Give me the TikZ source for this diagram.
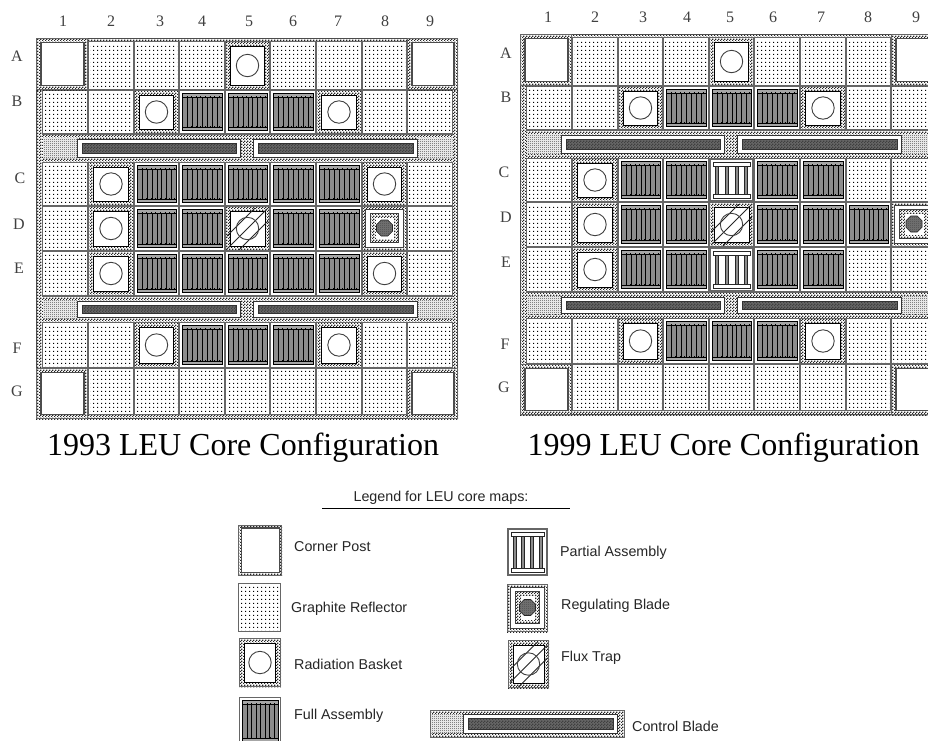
\documentclass[tikz,border=0pt]{standalone}
\usepackage{fontspec}
\setmainfont{Liberation Serif}
\newfontfamily\lab{Liberation Sans}
\usetikzlibrary{patterns}
\pgfdeclarepatternformonly{stip}{\pgfpointorigin}{\pgfpoint{3pt}{3pt}}{\pgfpoint{3pt}{3pt}}{%
  \pgfpathrectangle{\pgfpointorigin}{\pgfpoint{1.5pt}{1.5pt}}%
  \pgfpathrectangle{\pgfpoint{1.5pt}{1.5pt}}{\pgfpoint{1.5pt}{1.5pt}}\pgfusepath{fill}}
\pgfdeclarepatternformonly{fine}{\pgfpointorigin}{\pgfpoint{2pt}{2pt}}{\pgfpoint{2pt}{2pt}}{%
  \pgfpathrectangle{\pgfpointorigin}{\pgfpoint{1pt}{1pt}}%
  \pgfpathrectangle{\pgfpoint{1pt}{1pt}}{\pgfpoint{1pt}{1pt}}\pgfusepath{fill}}
\pgfdeclarepatternformonly{gdots}{\pgfpointorigin}{\pgfpoint{4pt}{4pt}}{\pgfpoint{4pt}{4pt}}{%
  \pgfpathrectangle{\pgfpoint{1.5pt}{1.5pt}}{\pgfpoint{1.2pt}{1.2pt}}\pgfusepath{fill}}
\tikzset{
  stipple/.style={preaction={fill=white},pattern=stip,pattern color=black!85},
  finegray/.style={preaction={fill=white},pattern=fine,pattern color=black!75},
  edge line/.style={draw=black!60,line width=1.6pt},
  black line/.style={draw=black,line width=1pt},
  title text/.style={font=\fontsize{32}{32}\selectfont,inner sep=0pt},
  axis text/.style={font=\fontsize{16}{16}\selectfont,inner sep=0pt,text=black!75},
  legend text/.style={font=\lab\fontsize{14.3}{14.3}\selectfont,inner sep=0pt,anchor=west,text=black!85},
}
\def\kin{5}
% every cell is drawn in a scope whose origin is its top left corner; \W and \H are its size
\newcommand{\cellG}{%
  \fill[white] (0,0) rectangle (\W,\H);
  \fill[pattern=gdots,pattern color=black] (2,2) rectangle (\W-2,\H-2);
  \draw[edge line] (0.5,0.5) rectangle (\W-0.5,\H-0.5);}
\newcommand{\stipbase}{%
  \fill[stipple] (0,0) rectangle (\W,\H);
  \draw[draw=black!60,line width=.8pt] (0.2,0.2) rectangle (\W-0.2,\H-0.2);}
\newcommand{\cellR}{%
  \stipbase
  \draw[fill=white,black line] (5.5,5) rectangle (\W-5.5,\H-5);
  \draw[draw=black!75,line width=.9pt] (\W/2,\H/2) circle (11.2);}
\newcommand{\cellF}{%
  \fill[white] (0,0) rectangle (\W,\H);
  \draw[edge line] (0.5,0.5) rectangle (\W-0.5,\H-0.5);
  \fill[black!45] (3,4) rectangle (\W-3,\H-4);
  \foreach \i in {0,...,8}{
    \pgfmathsetmacro\xs{round(3+(\W-6)*\i/8)}
    \draw[black,line width=1pt] (\xs,4) -- (\xs,\H-4);
  }
  \draw[fill=black!35,draw=black,line width=.9pt] (3,3.5) rectangle (\W-3,7);
  \draw[fill=black!35,draw=black,line width=.9pt] (3,\H-7) rectangle (\W-3,\H-3.5);
  \draw[black,line width=1.4pt,dash pattern=on 1pt off 3.6pt] (3,7) -- (\W-3,7);
  \draw[black,line width=1.4pt,dash pattern=on 1pt off 3.6pt] (3,\H-7) -- (\W-3,\H-7);}
\newcommand{\cellP}{%
  \fill[white] (0,0) rectangle (\W,\H);
  \draw[draw=black!60,line width=1.8pt] (0.8,0.8) rectangle (\W-0.8,\H-0.8);
  \foreach \fr in {.18,.39,.61,.82}{
    \pgfmathsetmacro\xs{\W*\fr}
    \draw[fill=black!45,draw=black!85,line width=.6pt] (\xs-1.5,5) rectangle (\xs+1.5,\H-5);
  }
  \draw[fill=white,draw=black!85,line width=.8pt] (4,4) rectangle (\W-4,8);
  \draw[fill=white,draw=black!85,line width=.8pt] (4,\H-8) rectangle (\W-4,\H-4);}
\newcommand{\cellT}{%
  \stipbase
  \draw[fill=white,black line] (5,5) rectangle (\W-5,\H-5);
  \begin{scope}
    \clip (2,2) rectangle (\W-2,\H-2);
    \draw[black!85,line width=.8pt] (\W/2-24,\H/2+24) -- (\W/2+24,\H/2-24);
    \draw[black!85,line width=.8pt] (\W/2-24,\H/2+11) -- (\W/2+11,\H/2-24);
    \draw[black!85,line width=.8pt] (\W/2-11,\H/2+24) -- (\W/2+24,\H/2-11);
  \end{scope}
  \draw[draw=black!75,line width=.9pt] (\W/2,\H/2) circle (11.2);}
\newcommand{\cellD}{%
  \stipbase
  \draw[fill=white,draw=black!75,line width=.9pt] (3.5,3.5) rectangle (\W-3.5,\H-3.5);
  \fill[black!75] (8,7) rectangle (\W-8,\H-8);
  \fill[stipple] (9,8) rectangle (\W-9,\H-9);
  \fill[white] (14,12) rectangle (\W-13,\H-12.5);
  \begin{scope}[shift={(\W/2,\H/2-.5)}]
  \draw[preaction={fill=black!55},pattern=fine,pattern color=black!70,draw=black!85,line width=.6pt]
    (-3.3,-8) -- (3.3,-8) -- (8,-3.3) -- (8,3.3) -- (3.3,8)
    -- (-3.3,8) -- (-8,3.3) -- (-8,-3.3) -- cycle;
  \end{scope}}
\newcommand{\cellK}{%
  \stipbase
  \draw[fill=white,draw=black!70,line width=1.1pt] (\kin,\kin-.5) rectangle (\W-\kin+1,\H-\kin+.5);}
\newcommand{\drawcell}[5]{%
  \begin{scope}[shift={(#2,#3)}]
    \pgfmathsetmacro\W{#4-#2}\pgfmathsetmacro\H{#5-#3}
    \csname cell#1\endcsname
  \end{scope}}
% one control blade: box x0 y0 x1 y1 with its dark core inside
\newcommand{\bladepart}[4]{%
  \draw[fill=white,draw=black!80,line width=.8pt] (#1,#2) rectangle (#3,#4);
  \fill[preaction={fill=black!60},pattern=stip,pattern color=black!75] (#1+5,#2+4) rectangle (#3-4,#4-4);
  \draw[draw=black!80,line width=.6pt] (#1+5,#2+4) rectangle (#3-4,#4-4);}
\newcommand{\bladeband}[2]{%
  \fill[stipple] (42,#1) rectangle (453,#2);
  \fill[finegray] (43,#1+4) rectangle (77,#2-4);
  \fill[finegray] (417,#1+4) rectangle (452.5,#2-4);
  \draw[draw=black!60,line width=.9pt] (42,#1) -- (453,#1);
  \draw[draw=black!60,line width=.9pt] (42,#2) -- (453,#2);
  \bladepart{77}{#1+5}{240}{#2-5}
  \bladepart{253.5}{#1+5}{417}{#2-5}}
\newcommand{\core}[3]{%
  \begin{scope}[shift={(#1,#2)}]
    \fill[stipple] (36,38) rectangle (458,419);
    \draw[draw=black!70,line width=1pt] (36.4,38.4) rectangle (457.6,418.6);
    \foreach \ya/\yb/\lst in {#3}{
      \foreach \t [count=\c] in \lst {
        \pgfmathsetmacro\xa{round(42.4+45.6*(\c-1))}
        \pgfmathsetmacro\xb{round(42.4+45.6*\c)}
        \drawcell{\t}{\xa}{\ya}{\xb}{\yb}
      }
    }
    \bladeband{134}{162}
    \bladeband{296}{322}
    \drawcell{K}{36}{38}{88}{90}
    \drawcell{K}{407}{38}{458}{90}
    \drawcell{K}{36}{368}{88}{419}
    \drawcell{K}{407}{368}{458}{419}
  \end{scope}}
\begin{document}
\begin{tikzpicture}[x=1pt,y=-1pt]
\useasboundingbox (0,0) rectangle (928,740);
\fill[white] (0,0) rectangle (928,740);
\begin{scope}
\clip (0,0) rectangle (928,740);
\core{0}{0}{
  41/90/{G,G,G,G,R,G,G,G,G},
  90/134/{G,G,R,F,F,F,R,G,G},
  162/206/{G,R,F,F,F,F,F,R,G},
  206/251/{G,R,F,F,T,F,F,D,G},
  251/296/{G,R,F,F,F,F,F,R,G},
  322/368/{G,G,R,F,F,F,R,G,G},
  368/415/{G,G,G,G,G,G,G,G,G}}
\core{484}{-4}{
  41/90/{G,G,G,G,R,G,G,G,G},
  90/134/{G,G,R,F,F,F,R,G,G},
  162/206/{G,R,F,F,P,F,F,G,G},
  206/251/{G,R,F,F,T,F,F,F,D},
  251/296/{G,R,F,F,P,F,F,G,G},
  322/368/{G,G,R,F,F,F,R,G,G},
  368/415/{G,G,G,G,G,G,G,G,G}}
% legend symbols
\def\kin{3.5}
\drawcell{K}{238}{525}{282}{575.5}
\drawcell{G}{238}{583}{281}{632}
\drawcell{R}{239}{638}{281}{687}
\drawcell{F}{239}{697}{281}{745}
\drawcell{P}{507}{528}{548}{576}
\drawcell{D}{507}{584}{548}{632}
\drawcell{T}{508}{640}{549}{688}
\fill[stipple] (430,710) rectangle (624,737);
\fill[finegray] (431,714) rectangle (463,733);
\draw[draw=black!60,line width=.8pt] (430,710) rectangle (624,737);
\bladepart{463}{714}{617}{733}
\end{scope}
% column and row labels
\foreach \s/\x/\y [count=\n] in {1/63/21,2/111/21,3/160/21,4/202/21,5/249/21,6/293/21,7/338/21,8/385/21,9/430/21}
  \node[axis text] (oldcol\n) at (\x,\y) {\s};
\foreach \s/\x/\y [count=\n] in {1/548/17,2/595/17,3/643/17,4/687/17,5/730/17,6/773/17,7/821/17,8/868/17,9/916/17}
  \node[axis text] (newcol\n) at (\x,\y) {\s};
\foreach \s/\x/\y in {A/17/56,B/17/101,C/20/178,D/19/224,E/19/268,F/17/348,G/17/391}
  \node[axis text] (oldrow\s) at (\x,\y) {\s};
\foreach \s/\x/\y in {A/506/53,B/506/97,C/504/172,D/506/217,E/506/262,F/505/344,G/504/387}
  \node[axis text] (newrow\s) at (\x,\y) {\s};
\node[title text] (oldtitle) at (243,448) {1993 LEU Core Configuration};
\node[title text] (newtitle) at (723.5,448) {1999 LEU Core Configuration};
\node[legend text,anchor=center] (legendhead) at (441,498) {Legend for LEU core maps:};
\coordinate (ruleL) at (322,508);
\coordinate (ruleR) at (570,508);
\draw[black,line width=1pt] (ruleL) -- (ruleR);
\foreach \nm/\s/\x/\y in {a/Corner Post/294/547,b/Graphite Reflector/291/609,c/Radiation Basket/294/664,d/Full Assembly/294/716,e/Partial Assembly/560/553,f/Regulating Blade/561/606,g/Flux Trap/561/658,h/Control Blade/632/726}
  \node[legend text] (legend\nm) at (\x,\y) {\s};
\end{tikzpicture}
\end{document}
